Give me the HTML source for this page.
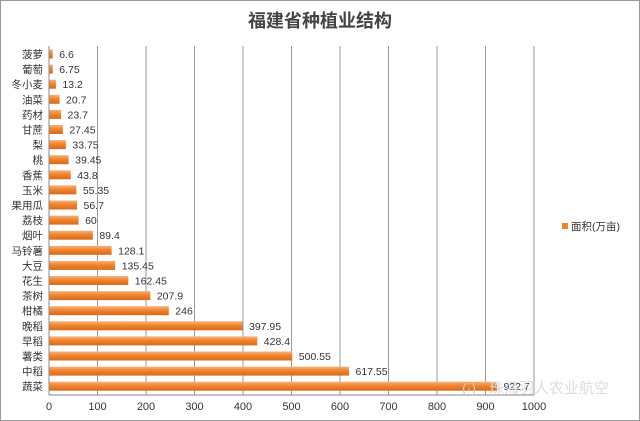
<!DOCTYPE html>
<html><head><meta charset="utf-8"><style>
body{margin:0;background:#fff}
svg{display:block}
text{font-family:"Liberation Sans","Noto Sans CJK SC",sans-serif}
</style></head><body>
<svg width="640" height="421" viewBox="0 0 640 421">
<defs><linearGradient id="g" x1="0" y1="0" x2="0" y2="1">
<stop offset="0" stop-color="#f7b27a"/><stop offset="0.45" stop-color="#ef8431"/><stop offset="1" stop-color="#d96a17"/></linearGradient></defs>
<rect x="0.5" y="0.5" width="639" height="420" fill="#fff" stroke="#999"/>
<text x="320" y="27" text-anchor="middle" font-size="18" font-weight="bold" fill="#444">福建省种植业结构</text>
<g stroke="#999" stroke-width="1">
<line x1="97.5" y1="46" x2="97.5" y2="395"/><line x1="146" y1="46" x2="146" y2="395"/><line x1="194.5" y1="46" x2="194.5" y2="395"/><line x1="243" y1="46" x2="243" y2="395"/><line x1="291.5" y1="46" x2="291.5" y2="395"/><line x1="340" y1="46" x2="340" y2="395"/><line x1="388.5" y1="46" x2="388.5" y2="395"/><line x1="437" y1="46" x2="437" y2="395"/><line x1="485.5" y1="46" x2="485.5" y2="395"/><line x1="534" y1="46" x2="534" y2="395"/>
<line x1="49" y1="46" x2="49" y2="395" stroke="#888"/>
<line x1="49" y1="395" x2="534" y2="395" stroke="#888"/>
</g>
<g font-size="11" fill="#333" text-anchor="middle">
<text x="49" y="410">0</text><text x="97.5" y="410">100</text><text x="146" y="410">200</text><text x="194.5" y="410">300</text><text x="243" y="410">400</text><text x="291.5" y="410">500</text><text x="340" y="410">600</text><text x="388.5" y="410">700</text><text x="437" y="410">800</text><text x="485.5" y="410">900</text><text x="534" y="410">1000</text>
</g>
<g id="bars" font-size="10.5" fill="#333"></g>
<rect x="562" y="223" width="6" height="6" fill="#ef8431"/>
<text x="571" y="230" font-size="10.5" fill="#333">面积(万亩)</text>
<text x="462" y="393" font-size="14" fill="#ccc">(·)</text>
<text x="489" y="393" font-size="15" fill="#ddd">珠海羽人农业航空</text>
</svg>
<script>
var d=[["菠萝",6.6],["葡萄",6.75],["冬小麦",13.2],["油菜",20.7],["药材",23.7],["甘蔗",27.45],["梨",33.75],["桃",39.45],["香蕉",43.8],["玉米",55.35],["果用瓜",56.7],["荔枝",60],["烟叶",89.4],["马铃薯",128.1],["大豆",135.45],["花生",162.45],["茶树",207.9],["柑橘",246],["晚稻",397.95],["早稻",428.4],["薯类",500.55],["中稻",617.55],["蔬菜",922.7]];
var g=document.getElementById("bars"),s="";
d.forEach(function(r,i){var y=54+i*15.1,w=r[1]*0.485;
s+='<text x="43" y="'+(y+4)+'" text-anchor="end">'+r[0]+'</text>';
s+='<rect x="49.5" y="'+(y-4.5)+'" width="'+w+'" height="9" fill="url(#g)"/>';
s+='<text x="'+(49+w+7)+'" y="'+(y+4)+'">'+r[1]+'</text>';});
g.innerHTML=s;
</script>
</body></html>
